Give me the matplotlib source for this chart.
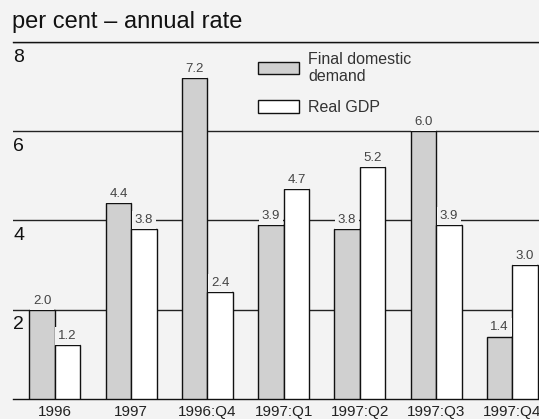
import matplotlib.pyplot as plt
import numpy as np

plt.rcParams['font.family'] = ['Liberation Sans', 'DejaVu Sans']

periods = ["1996", "1997", "1996:Q4", "1997:Q1", "1997:Q2", "1997:Q3", "1997:Q4"]
final_demand = [2.0, 4.4, 7.2, 3.9, 3.8, 6.0, 1.4]
real_gdp = [1.2, 3.8, 2.4, 4.7, 5.2, 3.9, 3.0]
yticks = [2, 4, 6, 8]

bg = "#f3f3f3"
W, H = 539, 419
fig = plt.figure(figsize=(W / 100, H / 100), dpi=100, facecolor=bg)
ax = fig.add_axes([13 / W, 20 / H, (W - 13) / W, 357 / H], facecolor=bg)

x = np.arange(len(periods))
w = 0.335
b1 = ax.bar(x - w / 2, final_demand, w, color="#d0d0d0", edgecolor="#111111",
            linewidth=1, zorder=3, label="Final domestic\ndemand")
b2 = ax.bar(x + w / 2, real_gdp, w, color="white", edgecolor="#111111",
            linewidth=1, zorder=3, label="Real GDP")

# value labels sit on a background patch so gridlines break around them
for bars, vals in ((b1, final_demand), (b2, real_gdp)):
    for r, v in zip(bars, vals):
        ax.text(r.get_x() + r.get_width() / 2, v + 0.07, f"{v:.1f}",
                ha="center", va="bottom", fontsize=9.5, color="#444444", zorder=4,
                bbox=dict(facecolor=bg, edgecolor="none", pad=2.2))

ax.set_xlim(-0.55, 6.35)
ax.set_ylim(0, 8)
ax.set_yticks(yticks)
ax.set_yticklabels([])
ax.tick_params(axis="y", length=0)
ax.grid(axis="y", color="#222222", linewidth=1, zorder=1)

ax.set_xticks(x)
ax.set_xticklabels(periods, fontsize=11, color="#222222")
ax.tick_params(axis="x", length=0, pad=4)

for side in ("left", "right"):
    ax.spines[side].set_visible(False)
for side in ("top", "bottom"):
    ax.spines[side].set_color("#111111")
    ax.spines[side].set_linewidth(1)

trans = ax.get_yaxis_transform()
for t in yticks:
    ax.text(0.0, t - 0.15, str(t), transform=trans, ha="left", va="top",
            fontsize=14, color="#111111")

fig.text(12 / W, 1 - 22 / H, "per cent \u2013 annual rate", fontsize=17,
         va="center", ha="left", color="#111111")

ax.legend(loc="upper left", bbox_to_anchor=(239 / (W - 13), 0.991), frameon=False,
          fontsize=11.5, handlelength=2.56, handleheight=0.8, handletextpad=0.56,
          labelspacing=1.0, labelcolor="#333333", borderaxespad=0)

fig.savefig("out.png", dpi=100, facecolor=bg)
